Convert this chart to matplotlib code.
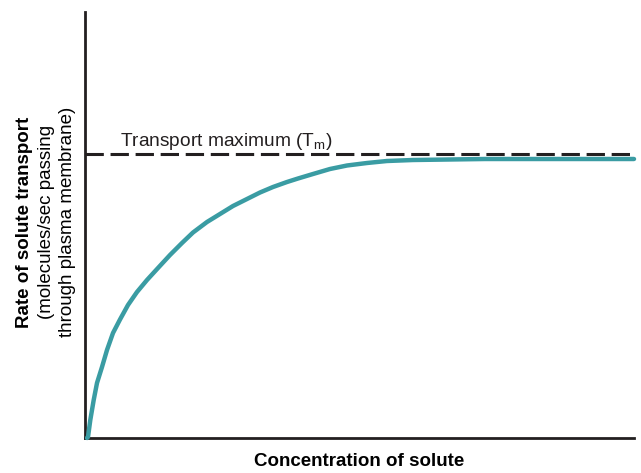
import matplotlib
matplotlib.use("Agg")
import matplotlib.pyplot as plt

plt.rcParams['font.family'] = ['Liberation Sans', 'DejaVu Sans']
plt.rcParams['mathtext.fontset'] = 'custom'
plt.rcParams['mathtext.rm'] = 'Liberation Sans'

# curve (concentration, rate)
conc = [2, 3, 5.3, 8.7, 12, 17, 22, 28, 35, 43, 52, 62, 73, 85, 97,
        108, 122, 135, 148, 162, 175, 188, 202, 213, 228, 245, 262,
        282, 302, 328, 400, 549]
rate = [0, 1, 18, 38, 55, 71, 88, 105, 118.5, 133, 146, 158, 170, 183, 195,
        205.5, 216, 224, 232, 239, 245.5, 251, 256, 259.5, 264, 269, 272.5,
        275, 277, 278, 279, 279]
t_max = 284

fig = plt.figure(figsize=(6.41, 4.73), dpi=100)
ax = fig.add_axes([85 / 641, 35 / 473, 549 / 641, 426 / 473])

ax.plot(conc, rate, color='#3A9CA3', lw=3.2, solid_capstyle='round',
        solid_joinstyle='round', clip_on=False, zorder=3)
ax.axhline(t_max, color='#231F20', lw=2.2, ls=(0, (6, 2.2)), clip_on=False)
ax.text(35, t_max + 8, 'Transport maximum (T$_\\mathrm{m}$)', fontsize=13.8, color='#231F20')

ax.set_xlim(0, 549)
ax.set_ylim(0, 426)
for s in ['top', 'right']:
    ax.spines[s].set_visible(False)
for s in ['left', 'bottom']:
    ax.spines[s].set_linewidth(2)
    ax.spines[s].set_color('#231F20')
ax.set_xticks([])
ax.set_yticks([])

ax.set_xlabel('Concentration of solute', fontsize=13.5, fontweight='bold', labelpad=11)

fig.text(25 / 641, 1 - 222 / 473, 'Rate of solute transport', rotation=90,
         fontsize=13.5, fontweight='bold', ha='center', va='center')
fig.text(47 / 641, 1 - 222 / 473, '(molecules/sec passing', rotation=90,
         fontsize=13.5, ha='center', va='center')
fig.text(68 / 641, 1 - 222 / 473, 'through plasma membrane)', rotation=90,
         fontsize=13.5, ha='center', va='center')

fig.savefig('out.png', dpi=100)
